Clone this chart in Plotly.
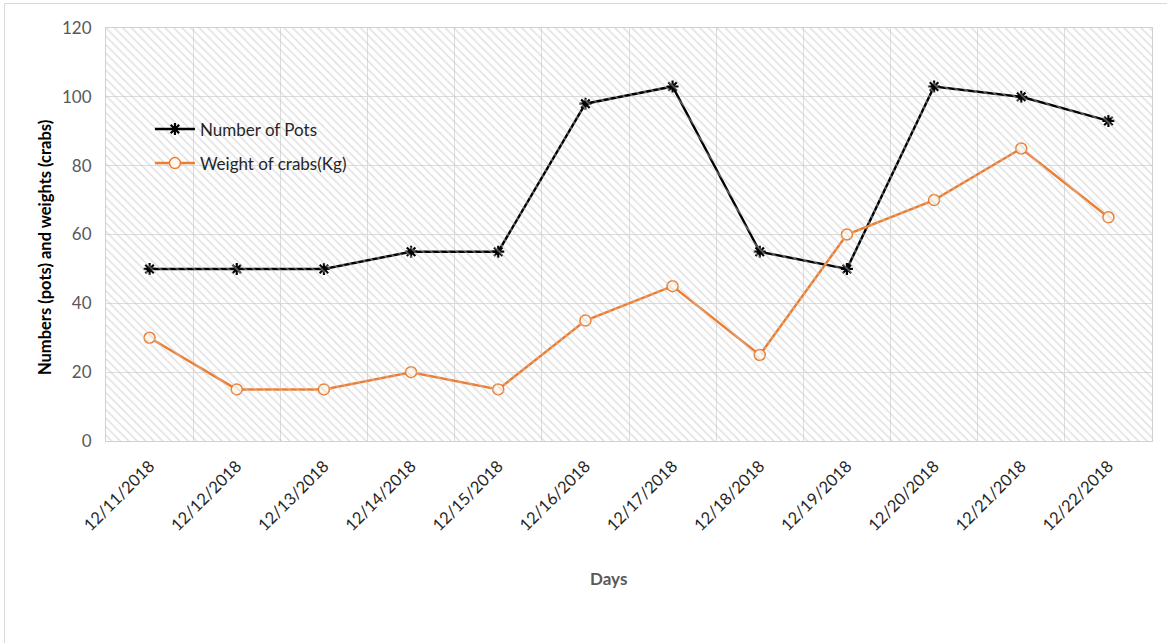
import plotly.graph_objects as go

days = ["12/11/2018", "12/12/2018", "12/13/2018", "12/14/2018", "12/15/2018", "12/16/2018",
        "12/17/2018", "12/18/2018", "12/19/2018", "12/20/2018", "12/21/2018", "12/22/2018"]
number_of_pots = [50, 50, 50, 55, 55, 98, 103, 55, 50, 103, 100, 93]
weight_of_crabs = [30, 15, 15, 20, 15, 35, 45, 25, 60, 70, 85, 65]
y_ticks = [0, 20, 40, 60, 80, 100, 120]

FONT = "Lato"
W, H = 1167, 643
L, R, T, B = 106, 15, 28, 202
pw, ph = W - L - R, H - T - B

fig = go.Figure()

# hatched plot-area background, drawn on an overlaying unit axis
fig.add_trace(go.Scatter(
    x=[0, 1, 1, 0, 0], y=[0, 0, 120, 120, 0], xaxis="x2",
    mode="lines", line=dict(width=0), fill="toself",
    fillcolor="rgba(255,255,255,0)",
    fillpattern=dict(shape="\\", fgcolor="#c8c8c8", bgcolor="rgba(255,255,255,0)",
                     size=6, solidity=0.28),
    hoverinfo="skip", showlegend=False,
))

fig.add_trace(go.Scatter(
    x=days, y=number_of_pots, name="Number of Pots", mode="lines+markers",
    legendgroup="pots",
    line=dict(color="#000000", width=2.5),
    marker=dict(symbol="asterisk-open", size=10, line=dict(color="#000000", width=2.2)),
))
fig.add_trace(go.Scatter(
    x=days, y=weight_of_crabs, name="Weight of crabs(Kg)", mode="lines+markers",
    legendgroup="crabs",
    line=dict(color="#ED7D31", width=2.5),
    marker=dict(symbol="circle", size=11, color="#FFF8EE", line=dict(color="#ED7D31", width=1.5)),
))

fig.update_layout(
    width=W, height=H,
    margin=dict(l=L, r=R, t=T, b=B),
    paper_bgcolor="white", plot_bgcolor="white",
    font=dict(family=FONT, size=16, color="#404040"),
    showlegend=True,
    legend=dict(x=0.042, y=0.798, xanchor="left", yanchor="top",
                bgcolor="rgba(0,0,0,0)", font=dict(family=FONT, size=17, color="#262626"),
                tracegroupgap=9, itemwidth=40),
    xaxis=dict(
        type="category", tickson="boundaries", range=[-0.5, 11.5],
        showgrid=True, gridcolor="#dcdcdc", gridwidth=1,
        showline=True, linecolor="#d0d0d0", mirror=True,
        ticks="", tickangle=-45, ticklabelstandoff=8,
        tickfont=dict(family=FONT, size=16.5, color="#262626"),
    ),
    xaxis2=dict(overlaying="x", range=[0, 1], visible=False, fixedrange=True),
    yaxis=dict(
        range=[0, 120], tickvals=y_ticks,
        showgrid=True, gridcolor="#dcdcdc", gridwidth=1,
        showline=True, linecolor="#d0d0d0", mirror=True,
        zeroline=False, ticks="", ticklabelstandoff=10,
        tickfont=dict(family=FONT, size=17, color="#595959"),
    ),
    annotations=[
        dict(text="<b>Days</b>", xref="paper", yref="paper",
             x=(608 - L) / pw, y=(441 - 578) / ph, xanchor="center", yanchor="middle",
             showarrow=False, font=dict(family=FONT, size=17, color="#595959")),
        dict(text="<b>Numbers (pots) and weights (crabs)</b>", xref="paper", yref="paper",
             x=(45 - L) / pw, y=(441 - 248) / ph, xanchor="center", yanchor="middle",
             textangle=-90, showarrow=False,
             font=dict(family=FONT, size=16.5, color="#000000")),
    ],
    shapes=[
        dict(type="line", xref="paper", yref="paper",
             x0=(4.5 - L) / pw, x1=(W - L) / pw,
             y0=1 + (T - 3.5) / ph, y1=1 + (T - 3.5) / ph,
             line=dict(color="#d9d9d9", width=1)),
        dict(type="line", xref="paper", yref="paper",
             x0=(4.5 - L) / pw, x1=(4.5 - L) / pw,
             y0=1 + (T - 3.5) / ph, y1=(441 - H) / ph,
             line=dict(color="#d9d9d9", width=1)),
    ],
)

fig.write_html("out.html")
